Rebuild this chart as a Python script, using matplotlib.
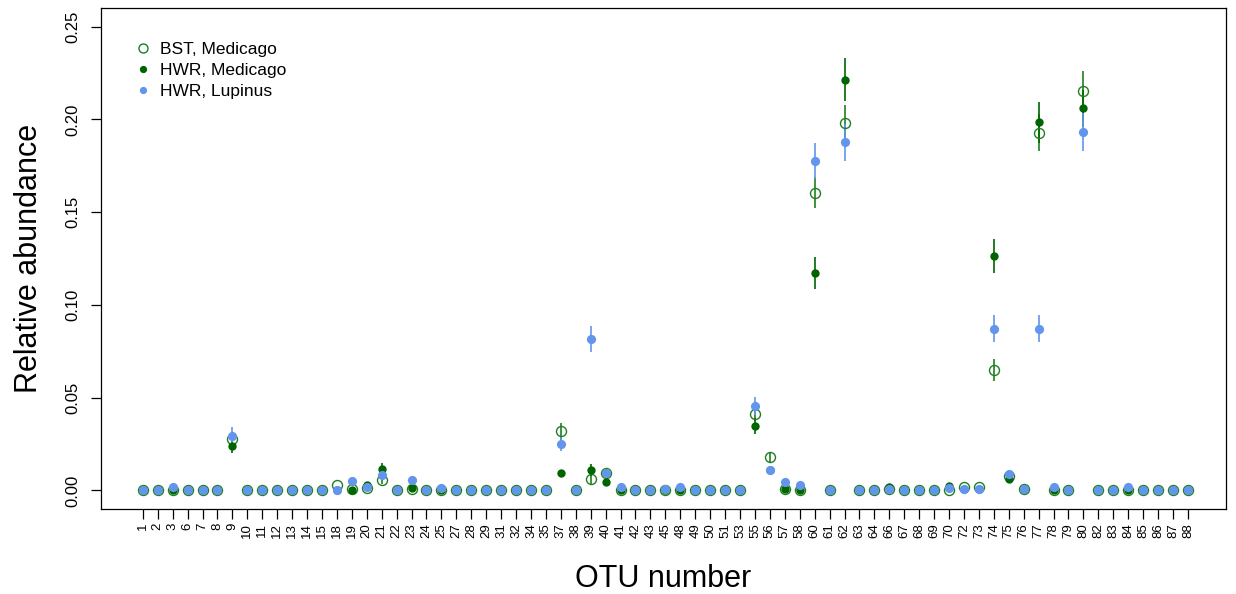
import matplotlib
matplotlib.use('Agg')
import matplotlib.pyplot as plt
from matplotlib.lines import Line2D
import numpy as np

plt.rcParams['font.family'] = ['Liberation Sans', 'DejaVu Sans']

otu_labels = [1, 2, 3, 6, 7, 8, 9, 10, 11, 12, 13, 14, 15, 18, 19, 20, 21, 22, 23, 24,
              25, 27, 28, 29, 31, 32, 34, 35, 37, 38, 39, 40, 41, 42, 43, 45, 48, 49, 50, 51,
              53, 55, 56, 57, 58, 60, 61, 62, 63, 64, 66, 67, 68, 69, 70, 72, 73, 74, 75, 76,
              77, 78, 79, 80, 82, 83, 84, 85, 86, 87, 88]

# mean relative abundance per OTU
bst_med = [0, 0, 0, 0, 0, 0, 0.0277, 0, 0, 0, 0, 0, 0, 0.003, 0.0006, 0.0012, 0.0057, 0, 0.001, 0,
           0, 0, 0, 0, 0.0004, 0, 0, 0, 0.032, 0, 0.0063, 0.0094, 0, 0, 0, 0, 0, 0, 0, 0,
           0, 0.0413, 0.0179, 0.001, 0, 0.1605, 0, 0.198, 0, 0, 0.001, 0.0004, 0, 0, 0, 0.0016, 0.002, 0.0648, 0.0079, 0.0008,
           0.1929, 0, 0, 0.2155, 0, 0, 0, 0, 0, 0, 0]
hwr_med = [0, 0, 0, 0, 0, 0, 0.0242, 0, 0, 0, 0, 0, 0, 0.0003, 0.0002, 0.0028, 0.0116, 0, 0.0011, 0,
           0, 0, 0, 0, 0.0004, 0, 0, 0, 0.0094, 0, 0.011, 0.0047, 0, 0, 0, 0, 0, 0, 0, 0,
           0, 0.0348, 0.011, 0.001, 0.0004, 0.1173, 0, 0.2214, 0, 0, 0.002, 0.0004, 0, 0, 0.0026, 0.001, 0.001, 0.1263, 0.0059, 0.0008,
           0.1984, 0, 0, 0.206, 0, 0, 0, 0, 0, 0, 0]
hwr_lup = [0.0005, 0, 0.0018, 0, 0, 0.0003, 0.0293, 0.0005, 0.0003, 0, 0, 0.0002, 0.0003, 0, 0.0053, 0.0016, 0.0083, 0, 0.0057, 0,
           0.0014, 0, 0, 0, 0.0004, 0, 0, 0, 0.025, 0, 0.0817, 0.0094, 0.0016, 0, 0, 0.001, 0.002, 0, 0, 0.0002,
           0.0002, 0.0454, 0.0108, 0.0043, 0.0029, 0.1776, 0, 0.1876, 0, 0.0001, 0.0006, 0.0004, 0, 0, 0.0012, 0.0006, 0.001, 0.0872, 0.0088, 0.0008,
           0.0872, 0.0018, 0, 0.193, 0, 0, 0.0018, 0, 0, 0, 0]

# standard errors
bst_err = [0, 0, 0, 0, 0, 0, 0.003, 0, 0, 0, 0, 0, 0, 0, 0, 0, 0.002, 0, 0, 0,
           0, 0, 0, 0, 0, 0, 0, 0, 0.0046, 0, 0.003, 0.002, 0, 0, 0, 0, 0, 0, 0, 0,
           0, 0.004, 0.003, 0, 0, 0.0083, 0, 0.0095, 0, 0, 0, 0, 0, 0, 0, 0, 0, 0.006, 0.001, 0,
           0.0098, 0, 0, 0.0104, 0, 0, 0, 0, 0, 0, 0]
hwr_err = [0, 0, 0, 0, 0, 0, 0.004, 0, 0, 0, 0, 0, 0, 0, 0, 0, 0.003, 0, 0, 0,
           0, 0, 0, 0, 0, 0, 0, 0, 0.0018, 0, 0.003, 0.001, 0, 0, 0, 0, 0, 0, 0, 0,
           0, 0.0045, 0.002, 0, 0, 0.0087, 0, 0.0114, 0, 0, 0, 0, 0, 0, 0, 0, 0, 0.0092, 0.001, 0,
           0.011, 0, 0, 0.01, 0, 0, 0, 0, 0, 0, 0]
lup_err = [0, 0, 0, 0, 0, 0, 0.005, 0, 0, 0, 0, 0, 0, 0, 0, 0, 0.002, 0, 0, 0,
           0, 0, 0, 0, 0, 0, 0, 0, 0.004, 0, 0.007, 0.002, 0, 0, 0, 0, 0, 0, 0, 0,
           0, 0.005, 0.002, 0, 0, 0.0095, 0, 0.0099, 0, 0, 0, 0, 0, 0, 0, 0, 0, 0.0074, 0.0015, 0,
           0.0074, 0, 0, 0.0102, 0, 0, 0, 0, 0, 0, 0]

bst_col = '#1f7f1f'
hwr_col = 'darkgreen'
lup_col = 'cornflowerblue'

x = np.arange(1, len(otu_labels) + 1)

fig = plt.figure(figsize=(12.36, 5.94), dpi=100)
ax = fig.add_axes([0.0817, 0.1431, 0.9102, 0.8434])

ax.errorbar(x, bst_med, yerr=bst_err, fmt='o', mfc='none', mec=bst_col, ecolor=bst_col,
            ms=7.2, mew=1.0, elinewidth=1.2, capsize=0)
ax.errorbar(x, hwr_med, yerr=hwr_err, fmt='o', color=hwr_col, ms=5.0,
            elinewidth=1.2, capsize=0)
ax.errorbar(x, hwr_lup, yerr=lup_err, fmt='o', color=lup_col, ms=5.6,
            elinewidth=1.2, capsize=0)

ax.set_xlim(-1.8, 73.55)
ax.set_ylim(-0.01, 0.26)
ax.set_xticks(x)
ax.set_xticklabels([str(v) for v in otu_labels], rotation=90, fontsize=9.5)
yt = np.arange(0, 0.26, 0.05)
ax.set_yticks(yt)
ax.set_yticklabels([f'{v:.2f}' for v in yt], rotation=90, va='center', fontsize=12)
ax.tick_params(axis='both', direction='out', length=7, width=0.9, colors='black')
ax.tick_params(axis='x', pad=3)
ax.tick_params(axis='y', pad=8)
for s in ax.spines.values():
    s.set_linewidth(0.9)

ax.set_xlabel('OTU number', fontsize=22, labelpad=19)
ax.set_ylabel('Relative abundance', fontsize=22, labelpad=15)

handles = [
    Line2D([], [], ls='none', marker='o', mfc='none', mec=bst_col, mew=1.0, ms=6.5),
    Line2D([], [], ls='none', marker='o', color=hwr_col, ms=4.2),
    Line2D([], [], ls='none', marker='o', color=lup_col, ms=4.2),
]
ax.legend(handles, ['BST, Medicago', 'HWR, Medicago', 'HWR, Lupinus'],
          loc='upper left', bbox_to_anchor=(0.022, 0.946), frameon=False,
          fontsize=12.5, handletextpad=0.35, labelspacing=0.32, handlelength=1.2,
          borderaxespad=0)

fig.savefig('out.png', dpi=100)
plt.close(fig)
